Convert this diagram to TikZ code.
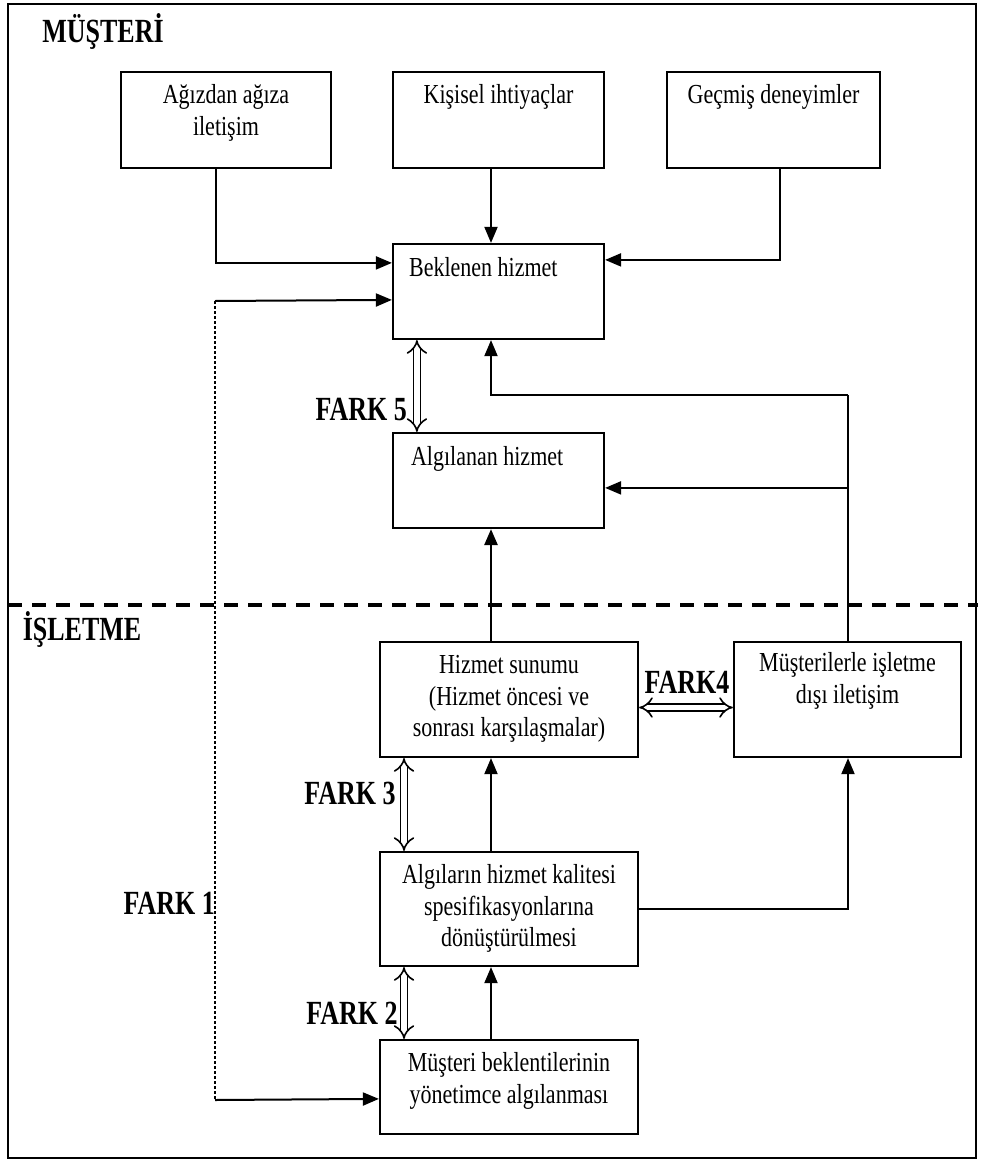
\documentclass[tikz,border=0pt]{standalone}
\usepackage{fontspec}
\setmainfont{Liberation Serif}
\usetikzlibrary{arrows.meta,calc}

% text set slightly taller than wide, as in the printed figure
\newcommand{\boxtext}[1]{\scalebox{1}[1.25]{\begin{tabular}{@{}c@{}}#1\end{tabular}}}
\newcommand{\labtext}[1]{\scalebox{1}[1.3]{#1}}

\begin{document}
\begin{tikzpicture}[x=1pt,y=-1pt,
  box/.style={draw, line width=2.2pt, inner sep=0pt},
  txt/.style={inner sep=0pt, font=\fontsize{22}{25}\selectfont},
  lbl/.style={inner sep=0pt, font=\fontsize{26}{30}\selectfont\bfseries},
  plain/.style={line width=2pt},
  flow/.style={line width=2pt, -{Triangle[length=16pt,width=13pt]}},
  gap/.style={double, double distance=5.5pt, line width=1.6pt, {Implies}-{Implies}},
  dotline/.style={line width=1.6pt, dash pattern=on 3pt off 2pt}]

% canvas
\path[use as bounding box] (0,0) rectangle (982,1162);
\draw[line width=1.8pt] (8,4) rectangle (976,1158);
\draw[line width=4.5pt, dash pattern=on 14pt off 10pt] (8,605) -- (978,605);

% region titles
\node[lbl] (musteri) at (103,31) {\labtext{MÜŞTERİ}};
\node[lbl] (isletme) at (82,629) {\labtext{İŞLETME}};

% helper columns
\coordinate (col)  at (491,0);
\coordinate (gcol) at (404,0);
\coordinate (rcol) at (848,0);
\coordinate (f1top) at (215,301);
\coordinate (f1bot) at (215,1100);
\coordinate (rt) at (848,395);

% customer side boxes
\node[box, minimum width=210pt, minimum height=96pt] (agiz)   at (226,120) {};
\node[box, minimum width=211pt, minimum height=96pt] (kisi)   at (498.5,120) {};
\node[box, minimum width=213pt, minimum height=96pt] (gecmis) at (773.5,120) {};
\node[box, minimum width=211pt, minimum height=95pt] (bek)    at (498.5,291.5) {};
\node[box, minimum width=211pt, minimum height=95pt] (alg)    at (498.5,480.5) {};

% company side boxes
\node[box, minimum width=258pt, minimum height=115pt] (sun)  at (509,699.5) {};
\node[box, minimum width=227pt, minimum height=115pt] (dis)  at (847.5,699.5) {};
\node[box, minimum width=258pt, minimum height=114pt] (spec) at (509,909) {};
\node[box, minimum width=258pt, minimum height=94pt]  (yon)  at (509,1087) {};

% box texts
\node[txt, anchor=north] (agizT)   at ([yshift=-11pt]agiz.north)   {\boxtext{Ağızdan ağıza\\iletişim}};
\node[txt, anchor=north] (kisiT)   at ([yshift=-11pt]kisi.north)   {\boxtext{Kişisel ihtiyaçlar}};
\node[txt, anchor=north] (gecmisT) at ([yshift=-11pt]gecmis.north) {\boxtext{Geçmiş deneyimler}};
\node[txt, anchor=north west] (bekT) at ($(bek.north west)+(17,12)$) {\boxtext{Beklenen hizmet}};
\node[txt, anchor=north west] (algT) at ($(alg.north west)+(19,12)$) {\boxtext{Algılanan hizmet}};
\node[txt, anchor=north] (sunT)  at ([yshift=-11pt]sun.north)  {\boxtext{Hizmet sunumu\\(Hizmet öncesi ve\\sonrası karşılaşmalar)}};
\node[txt, anchor=north] (disT)  at ([yshift=-9pt]dis.north)   {\boxtext{Müşterilerle işletme\\dışı iletişim}};
\node[txt, anchor=north] (specT) at ([yshift=-11pt]spec.north) {\boxtext{Algıların hizmet kalitesi\\spesifikasyonlarına\\dönüştürülmesi}};
\node[txt, anchor=north] (yonT)  at ([yshift=-11pt]yon.north)  {\boxtext{Müşteri beklentilerinin\\yönetimce algılanması}};

% expectations
\draw[flow] ([xshift=-10pt]agiz.south) |- ($(bek.north west)+(0,20)$);
\draw[flow] (kisi.south -| col) -- (bek.north -| col);
\draw[flow] ([xshift=6pt]gecmis.south) |- ($(bek.north east)+(0,17)$);

% gap 1 (dotted link between management perception and expected service)
\draw[flow] (f1top) -- ($(bek.north west)+(0,57)$);
\draw[dotline] (f1top) -- (f1bot);
\draw[flow] (f1bot) -- ($(yon.north west)+(0,60)$);
\node[lbl, anchor=east] (fark1) at (215,903) {\labtext{FARK 1}};

% gap 5
\draw[gap] ($(bek.south west)+(25,0)$) -- ($(alg.north west)+(25,0)$);
\node[lbl, anchor=east] (fark5) at (407,410) {\labtext{FARK 5}};

% external communication feedback
\draw[plain] (dis.north -| rcol) -- (rt);
\draw[flow] (rt) -| (bek.south -| col);
\draw[flow] ($(alg.north east -| rcol)+(0,56)$) -- ($(alg.north east)+(0,56)$);

% service delivery
\draw[flow, line width=2.6pt] (sun.north -| col) -- (alg.south -| col);

% gap 4
\draw[gap] ([yshift=-8pt]sun.east) -- ([yshift=-8pt]dis.west);
\node[lbl] (fark4) at (687,682) {\labtext{FARK4}};

% gap 3
\draw[gap] (sun.south -| gcol) -- (spec.north -| gcol);
\node[lbl] (fark3) at (350,793) {\labtext{FARK 3}};
\draw[flow] (spec.north -| col) -- (sun.south -| col);

% specifications to external communication
\draw[flow] (spec.east) -| (dis.south -| rcol);

% gap 2
\draw[gap] (yon.north -| gcol) -- (spec.south -| gcol);
\node[lbl] (fark2) at (352,1013) {\labtext{FARK 2}};
\draw[flow] (yon.north -| col) -- (spec.south -| col);
\end{tikzpicture}
\end{document}
